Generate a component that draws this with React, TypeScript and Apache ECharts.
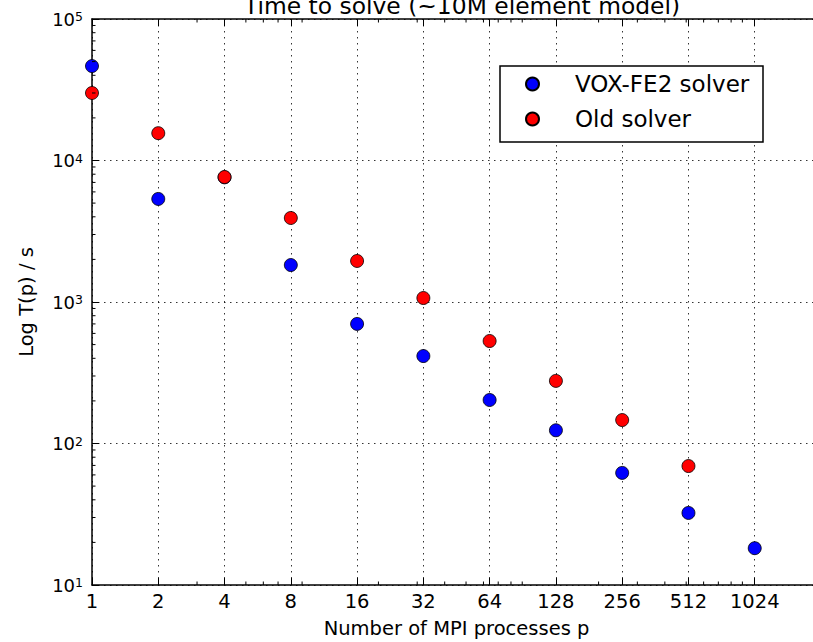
import React, { useEffect, useRef } from "react";
import * as echarts from "echarts";

const processes = [1, 2, 4, 8, 16, 32, 64, 128, 256, 512, 1024];
const voxSolver = [46500, 5350, 7600, 1825, 700, 415, 203, 124, 62, 32.3, 18.2];
const oldSolver = [30000, 15600, 7640, 3925, 1950, 1067, 530, 277, 146.5, 69.3];
const seriesNames = ["VOX-FE2 solver", "Old solver"];
const minorXTicks = [3, 5, 6, 7, 9, 20, 30, 40, 50, 60, 70, 80, 90, 200, 300, 400, 500, 600, 700, 800, 900];
const minorYTicks = [
  20, 30, 40, 50, 60, 70, 80, 90,
  200, 300, 400, 500, 600, 700, 800, 900,
  2000, 3000, 4000, 5000, 6000, 7000, 8000, 9000,
  20000, 30000, 40000, 50000, 60000, 70000, 80000, 90000,
];
const xRange = [1, 2048];
const yRange = [10, 100000];

const FONT = "DejaVu Sans";

export default function App() {
  const ref = useRef<HTMLDivElement>(null);
  useEffect(() => {
    const chart = echarts.init(ref.current!, null, { renderer: "svg" });
    const gridLine = { show: true, lineStyle: { color: "#000", width: 0.8, type: [1.5, 4.5] as any } };
    const axisLine = { show: true, onZero: false, lineStyle: { color: "#000", width: 1.5 } };
    const axisTick = { show: true, inside: true, length: 7, lineStyle: { color: "#000", width: 1 } };
    chart.setOption({
      animation: false,
      backgroundColor: "#fff",
      textStyle: { fontFamily: FONT },
      title: {
        text: "Time to solve (~10M element model)",
        left: 457,
        textAlign: "center",
        top: -11,
        textStyle: { fontSize: 23.4, fontWeight: "normal", color: "#000", fontFamily: FONT },
      },
      grid: { left: 92, top: 19, width: 729, height: 566, outerBoundsMode: "none", containLabel: false },
      legend: {
        data: seriesNames,
        orient: "vertical",
        left: 525,
        top: 72,
        itemWidth: 13,
        itemHeight: 13,
        itemGap: 11,
        icon: "circle",
        padding: 0,
        z: 10,
        textStyle: { fontSize: 23, lineHeight: 24, color: "#000", fontFamily: FONT, padding: [0, 0, 0, 31] },
      },
      graphic: [
        {
          type: "rect",
          shape: { x: 500, y: 66, width: 263, height: 76 },
          style: { fill: "#fff", stroke: "#000", lineWidth: 1.5 },
          z: 8,
        },
      ],
      xAxis: [
        {
          type: "log",
          logBase: 2,
          min: xRange[0],
          max: xRange[1],
          interval: 1,
          splitNumber: 11,
          position: "bottom",
          name: "Number of MPI processes p",
          nameLocation: "middle",
          nameGap: 33,
          nameTextStyle: { fontSize: 19.5, color: "#000", fontFamily: FONT },
          axisLine,
          axisTick,
          axisLabel: {
            margin: 6,
            fontSize: 19.5,
            color: "#000",
            fontFamily: FONT,
            formatter: (v: number) => (v > 1025 ? "" : String(Math.round(v))),
          },
          splitLine: gridLine,
        },
        {
          type: "log",
          logBase: 2,
          min: xRange[0],
          max: xRange[1],
          interval: 1,
          splitNumber: 11,
          position: "top",
          axisLine,
          axisTick,
          axisLabel: { show: false },
          splitLine: { show: false },
        },
      ],
      yAxis: {
        type: "log",
        logBase: 10,
        min: yRange[0],
        max: yRange[1],
        interval: 1,
        splitNumber: 4,
        name: "Log T(p) / s",
        nameLocation: "middle",
        nameGap: 56,
        nameTextStyle: { fontSize: 19.5, color: "#000", fontFamily: FONT },
        axisLine,
        axisTick,
        axisLabel: {
          margin: 9,
          color: "#000",
          fontFamily: FONT,
          formatter: (v: number) => `{b|10}{s|${Math.round(Math.log10(v))}}`,
          rich: {
            b: { fontSize: 18, lineHeight: 18, padding: [5, 0, 0, 0], verticalAlign: "bottom", fontFamily: FONT, color: "#000" },
            s: { fontSize: 12.5, lineHeight: 12.5, verticalAlign: "top", fontFamily: FONT, color: "#000" },
          },
        },
        splitLine: gridLine,
      },
      series: [
        {
          name: seriesNames[0],
          type: "scatter",
          data: processes.map((p, i) => [p, voxSolver[i]]),
          symbol: "circle",
          symbolSize: 13,
          itemStyle: { color: "#0000ff", borderColor: "#000", borderWidth: 0.8, opacity: 1 },
          clip: true,
          z: 3,
        },
        {
          name: seriesNames[1],
          type: "scatter",
          data: oldSolver.map((v, i) => [processes[i], v]),
          symbol: "circle",
          symbolSize: 13,
          itemStyle: { color: "#ff0000", borderColor: "#000", borderWidth: 0.8, opacity: 1 },
          clip: true,
          z: 4,
        },
        {
          type: "custom",
          silent: true,
          clip: false,
          z: 5,
          data: minorXTicks.map((v) => [v]),
          encode: { x: 0 },
          renderItem: (_p: any, api: any) => {
            const v = api.value(0);
            const b = api.coord([v, yRange[0]]);
            const t = api.coord([v, yRange[1]]);
            const st = { stroke: "#000", lineWidth: 1 };
            return {
              type: "group",
              children: [
                { type: "line", shape: { x1: b[0], y1: b[1], x2: b[0], y2: b[1] - 3.5 }, style: st },
                { type: "line", shape: { x1: t[0], y1: t[1], x2: t[0], y2: t[1] + 3.5 }, style: st },
              ],
            };
          },
        },
        {
          type: "custom",
          silent: true,
          clip: false,
          z: 5,
          data: minorYTicks.map((v) => [xRange[0], v]),
          encode: { x: 0, y: 1 },
          renderItem: (_p: any, api: any) => {
            const v = api.value(1);
            const l = api.coord([xRange[0], v]);
            return {
              type: "line",
              shape: { x1: l[0], y1: l[1], x2: l[0] + 3.5, y2: l[1] },
              style: { stroke: "#000", lineWidth: 1 },
            };
          },
        },
      ],
    });
    return () => chart.dispose();
  }, []);
  return (
    <div
      ref={ref}
      style={{ position: "fixed", left: 0, top: 0, width: 813, height: 642, background: "#fff" }}
    />
  );
}
